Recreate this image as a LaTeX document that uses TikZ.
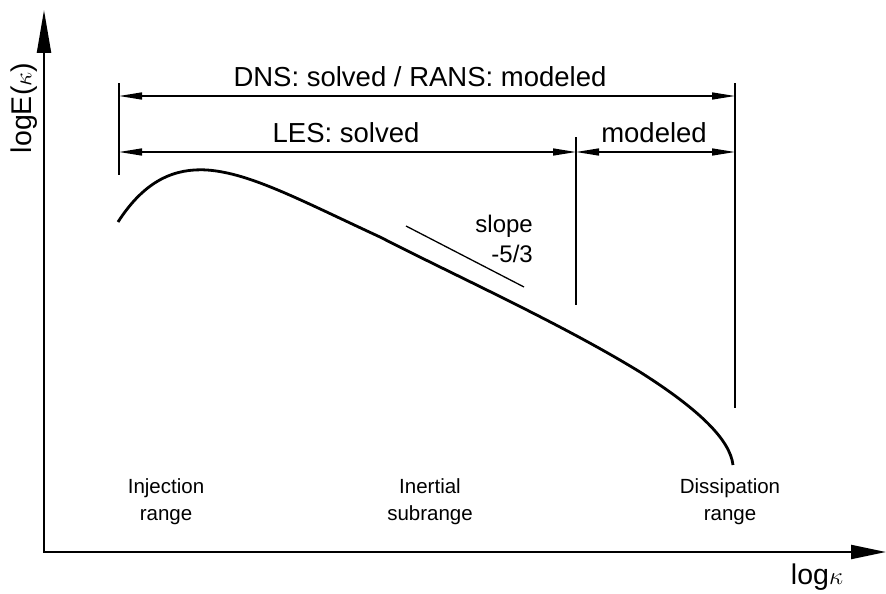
\documentclass[tikz,border=0pt]{standalone}
\usepackage{fontspec}
\setmainfont{Liberation Sans}
\usetikzlibrary{arrows.meta}
\begin{document}
\begin{tikzpicture}[x=1pt,y=-1pt,
  axis/.style={line width=2.2pt},
  dimline/.style={line width=1.5pt,{Triangle[length=23pt,width=7pt]}-{Triangle[length=23pt,width=7pt]}},
  extline/.style={line width=1.3pt},
  curve/.style={line width=2.8pt},
  biglbl/.style={font=\fontsize{27.5}{32}\selectfont, inner sep=0pt},
  axlbl/.style={font=\fontsize{28.5}{32}\selectfont, inner sep=0pt},
  slopelbl/.style={font=\fontsize{24}{30}\selectfont, inner sep=0pt},
  rangelbl/.style={font=\fontsize{20.5}{27}\selectfont, align=center, inner sep=0pt},
]
\useasboundingbox (0,0) rectangle (886,594);
% axes
\coordinate (Ytop) at (44,10);
\coordinate (O) at (44,552);
\coordinate (Xend) at (886,552);
\draw[axis,{Triangle[length=43pt,width=14pt]}-{Triangle[length=35pt,width=14pt]}] (Ytop) -- (O) -- (Xend);
\node[axlbl, rotate=90] (ylab) at (24,108) {logE($\kappa$)};
\node[axlbl] (xlab) at (817,577) {log$\kappa$};
% extension lines
\coordinate (a1) at (119,83);  \coordinate (a2) at (119,175);
\coordinate (b1) at (576,137); \coordinate (b2) at (576,305);
\coordinate (c1) at (735,83);  \coordinate (c2) at (735,408);
\draw[extline] (a1) -- (a2);
\draw[extline] (b1) -- (b2);
\draw[extline] (c1) -- (c2);
% dimension arrows
\coordinate (d1) at (119,96);  \coordinate (d2) at (735,96);
\coordinate (l1) at (119,152); \coordinate (l2) at (576,152); \coordinate (l3) at (735,152);
\draw[dimline] (d1) -- (d2);
\draw[dimline] (l1) -- (l2);
\draw[dimline] (l2) -- (l3);
\node[biglbl] (dns) at (420,77) {DNS: solved / RANS: modeled};
\node[biglbl] (les) at (346,133) {LES: solved};
\node[biglbl] (mod) at (654,133) {modeled};
% spectrum
\draw[curve] (118,222) .. controls (145,180) and (175,168) .. (207,170)
  .. controls (250,173) and (300,200) .. (380,237)
  .. controls (460,278) and (560,323) .. (640,372)
  .. controls (700,410) and (730,440) .. (733,465);
% slope
\coordinate (s1) at (406,226); \coordinate (s2) at (524,287);
\draw[extline] (s1) -- (s2);
\node[slopelbl, anchor=base east] (slope) at (533,232) {slope};
\node[slopelbl, anchor=base east] (slopev) at (533,262) {-5/3};
% range labels
\node[rangelbl] (inj) at (166,502) {Injection\\range};
\node[rangelbl] (ine) at (430,502) {Inertial\\subrange};
\node[rangelbl] (dis) at (730,502) {Dissipation\\range};
\end{tikzpicture}
\end{document}
